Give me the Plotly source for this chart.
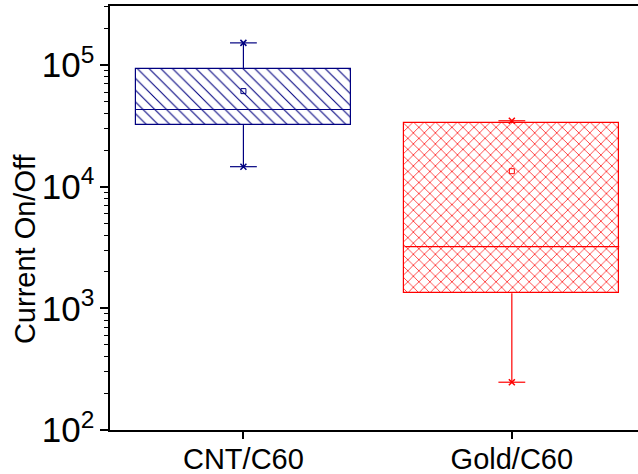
import plotly.graph_objects as go

# Box statistics for the current on/off ratio of each device type
categories = ["CNT/C60", "Gold/C60"]
q1 = [3.21e4, 1.33e3]
median = [4.31e4, 3.21e3]
q3 = [9.25e4, 3.35e4]
mean = [6.1e4, 1.34e4]
whisker_low = [1.46e4, 247]
whisker_high = [1.52e5, 3.48e4]

colors = ["#000080", "#FF0000"]
patterns = ["\\", "x"]
pattern_sizes = [8.3, 7.8]
pattern_solidity = [0.13, 0.17]

box_width = 0.8
cap_half = 0.05

fig = go.Figure()

for i, cat in enumerate(categories):
    c = colors[i]
    # hatched box from Q1 to Q3
    fig.add_trace(go.Bar(
        x=[i], base=[q1[i]], y=[q3[i] - q1[i]], width=box_width,
        marker=dict(color="white", line=dict(color=c, width=1.2),
                    pattern=dict(shape=patterns[i], size=pattern_sizes[i],
                                 solidity=pattern_solidity[i], fgcolor=c,
                                 bgcolor="white", fillmode="replace")),
        showlegend=False, hoverinfo="skip",
    ))
    # median line
    fig.add_trace(go.Scatter(
        x=[i - box_width / 2, i + box_width / 2], y=[median[i], median[i]],
        mode="lines", line=dict(color=c, width=1.2), showlegend=False,
    ))
    # whiskers with caps
    fig.add_trace(go.Scatter(
        x=[i, i, None, i, i, None,
           i - cap_half, i + cap_half, None, i - cap_half, i + cap_half],
        y=[q3[i], whisker_high[i], None, q1[i], whisker_low[i], None,
           whisker_high[i], whisker_high[i], None, whisker_low[i], whisker_low[i]],
        mode="lines", line=dict(color=c, width=1.2), showlegend=False,
    ))
    # whisker end markers
    fig.add_trace(go.Scatter(
        x=[i, i], y=[whisker_low[i], whisker_high[i]], mode="markers",
        marker=dict(symbol="x-thin-open", size=6, color=c, line=dict(color=c, width=1.5)),
        showlegend=False,
    ))
    # mean marker
    fig.add_trace(go.Scatter(
        x=[i], y=[mean[i]], mode="markers",
        marker=dict(symbol="square-open", size=5, color=c, line=dict(color=c, width=1)),
        showlegend=False,
    ))

font_family = "Arial, Liberation Sans, sans-serif"

fig.update_layout(
    width=638, height=474,
    margin=dict(l=110, r=0, t=6, b=44, autoexpand=False),
    paper_bgcolor="white", plot_bgcolor="white",
    font=dict(family=font_family, size=28, color="black"),
    bargap=0,
    xaxis=dict(
        range=[-0.497, 1.47], tickmode="array", tickvals=[0, 1], ticktext=categories,
        showline=True, linecolor="black", linewidth=2, mirror=True,
        ticks="outside", ticklen=7, tickwidth=1.5, tickcolor="black",
        ticklabelstandoff=-5,
        showgrid=False, zeroline=False, tickfont=dict(size=29), automargin=False,
    ),
    yaxis=dict(
        type="log", range=[2, 5.485], dtick=1, exponentformat="power",
        showline=True, linecolor="black", linewidth=2, mirror=False,
        ticks="outside", ticklen=8, tickwidth=1.5, tickcolor="black",
        minor=dict(ticks="outside", ticklen=4, tickwidth=1, tickcolor="black", dtick="D1"),
        showgrid=False, zeroline=False, tickfont=dict(size=28), automargin=False,
    ),
    annotations=[dict(
        text="Current On/Off", textangle=-90, showarrow=False,
        xref="paper", yref="paper", x=-0.161, y=0.429,
        xanchor="center", yanchor="middle", font=dict(size=29),
    )],
)

fig.write_html("out.html")
